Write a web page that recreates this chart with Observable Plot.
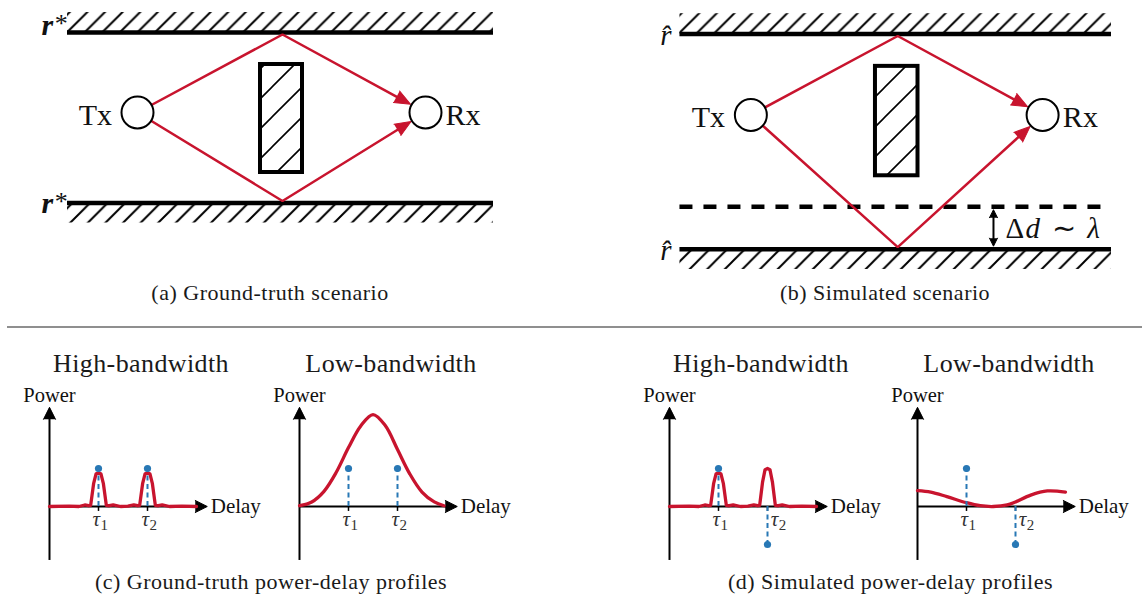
<!DOCTYPE html>
<html><head><meta charset="utf-8">
<script src="https://cdn.jsdelivr.net/npm/d3@7"></script>
<script src="https://cdn.jsdelivr.net/npm/@observablehq/plot@0.6"></script>
<style>
html,body{margin:0;padding:0;background:#fff;}
#page{position:relative;width:1142px;height:600px;overflow:hidden;font-family:'Liberation Serif','Times New Roman',serif;color:#1a1a1a;}
.cap{position:absolute;width:600px;text-align:center;font-size:22px;line-height:22px;letter-spacing:0.5px;white-space:nowrap;}
.ttl{position:absolute;width:300px;text-align:center;font-size:26px;line-height:26px;letter-spacing:0.4px;white-space:nowrap;}
.sep{position:absolute;left:7px;top:326px;width:1135px;height:2px;background:#8f8f8f;}
</style></head>
<body>
<svg width="0" height="0" style="position:absolute">
  <defs>
    <pattern id="wallHatch" patternUnits="userSpaceOnUse" width="17.6" height="17.6">
      <path d="M-4.4,4.4L4.4,-4.4M0,17.6L17.6,0M13.2,22L22,13.2" stroke="#000" stroke-width="2" fill="none"/>
    </pattern>
    <pattern id="boxHatch" patternUnits="userSpaceOnUse" width="30" height="30">
      <path d="M-5,5L5,-5M0,30L30,0M25,35L35,25" stroke="#000" stroke-width="1.6" fill="none"/>
    </pattern>
  </defs>
</svg>
<div id="page"></div>
<script>
// ---------------- DATA ----------------
// Scenario geometry (scene units; panel (a) draws 1 unit as 10 px)
const nodes = [
  {name: "Tx", x: 0, y: 0},
  {name: "Rx", x: 28.8, y: 0}
];
const wallTopY = 8.0;
const wallBottomY = -9.05;
const wallSpan = [-7.0, 35.6];
const obstacle = [{x1: 12.3, x2: 16.5, y1: -6.0, y2: 4.8}];
const bounceX = 14.5;
const deltaD = 4.2;          // shift of the simulated bottom wall (Δd ~ λ)
const deltaArrowX = 23.95;
const deltaText = [
  {t: "Δ", x: 25.13, italic: false},
  {t: "d", x: 27.1, italic: true},
  {t: "∼", x: 29.75, italic: false},
  {t: "λ", x: 33.2, italic: true}
];

// Power-delay profiles (delay: τ1 = 1, τ2 = 2 ; power: tap amplitude 1)
const tapsTruth = [{tau: 1, amp: 1, sym: "τ", sub: "1"}, {tau: 2, amp: 1, sym: "τ", sub: "2"}];
const tapsSim   = [{tau: 1, amp: 1, sym: "τ", sub: "1"}, {tau: 2, amp: -1, sym: "τ", sub: "2"}];

const pdpHighTruth = [[0,0],[0.4,0.01],[0.6,0],[0.72,0.04],[0.8,0.02],[0.84,0.03],[0.9,0.6],[0.95,0.86],[1.0,0.88],[1.05,0.86],[1.1,0.6],[1.16,0.03],[1.22,0.02],[1.3,0.04],[1.45,0],[1.6,0.01],[1.72,0.04],[1.8,0.02],[1.84,0.03],[1.9,0.6],[1.95,0.86],[2.0,0.88],[2.05,0.86],[2.1,0.6],[2.16,0.03],[2.22,0.02],[2.3,0.04],[2.45,0],[2.7,0.01],[3.0,0]];
const pdpLowTruth = [[0,0.02],[0.25,0.12],[0.5,0.4],[0.75,0.9],[1.0,1.55],[1.25,2.12],[1.5,2.42],[1.75,2.13],[2.0,1.5],[2.25,0.86],[2.5,0.38],[2.75,0.12],[2.95,0.02]];
const pdpHighSim = [[0,0],[0.4,0.01],[0.6,0],[0.72,0.04],[0.8,0.02],[0.84,0.03],[0.9,0.6],[0.95,0.86],[1.0,0.88],[1.05,0.86],[1.1,0.6],[1.16,0.03],[1.22,0.02],[1.3,0.04],[1.45,0],[1.6,0.01],[1.72,0.04],[1.8,0.02],[1.84,0.03],[1.9,0.65],[1.95,0.97],[2.0,1.0],[2.05,0.97],[2.1,0.65],[2.16,0.03],[2.22,0.02],[2.3,0.04],[2.45,0],[2.7,0.01],[3.0,0]];
const pdpLowSim = [[0,0.42],[0.27,0.38],[0.6,0.26],[1.0,0.1],[1.28,0.02],[1.55,0],[1.83,0.04],[2.0,0.12],[2.31,0.3],[2.65,0.41],[3.02,0.38]];

const titles = ["High-bandwidth", "Low-bandwidth", "High-bandwidth", "Low-bandwidth"];
const captions = ["(a) Ground-truth scenario", "(b) Simulated scenario",
                  "(c) Ground-truth power-delay profiles", "(d) Simulated power-delay profiles"];

// ---------------- STYLE / LAYOUT ----------------
const RED = "#c8142e", BLUE = "#2878b5", INK = "#111";
const FONT = "'Liberation Serif', 'Times New Roman', serif";
const page = document.getElementById("page");

function place(el, left, top) {
  const d = document.createElement("div");
  d.style.position = "absolute"; d.style.left = left + "px"; d.style.top = top + "px";
  d.appendChild(el); page.appendChild(d);
}
function htmlText(text, cls, cx, top, w) {
  const d = document.createElement("div");
  d.className = cls; d.textContent = text;
  d.style.left = (cx - w / 2) + "px"; d.style.top = top + "px";
  page.appendChild(d);
}
const baseStyle = {background: "transparent", overflow: "visible", maxWidth: "none", fontFamily: FONT, color: INK};

// ---------------- SCENES (a), (b) ----------------
const scenarios = [
  {k: 10, origin: [136.7, 111.7], ghost: null, star: true,
   walls: [{y: wallTopY, side: 1}, {y: wallBottomY, side: -1}],
   labelX: -8.42, labelDy: {top: -0.25, bottom: -1.0}},
  {k: 10.13, origin: [750.4, 114], ghost: wallBottomY, star: false,
   walls: [{y: wallTopY, side: 1}, {y: wallBottomY - deltaD, side: -1}],
   labelX: -7.84, labelDy: {top: -1.1, bottom: -1.1}}
];

function scenePlot(sc) {
  const k = sc.k, xmin = -10.5, ymax = 11.5;
  const width = Math.round(48 * k), height = Math.round(27.5 * k);
  const xmax = xmin + width / k, ymin = ymax - height / k;
  const walls = sc.walls;
  const top = walls.find(w => w.side > 0), bot = walls.find(w => w.side < 0);
  const tx = nodes[0], rx = nodes[1];
  const bounces = [{x: bounceX, y: top.y - 0.2}, {x: bounceX, y: bot.y + 0.2}];
  const rayPts = [], heads = [];
  bounces.forEach((b, i) => {
    const dx = rx.x - b.x, dy = rx.y - b.y, L = Math.hypot(dx, dy);
    const ux = dx / L, uy = dy / L;
    const tip = {x: rx.x - ux * 17 / k, y: rx.y - uy * 17 / k};
    const base = {x: tip.x - ux * 12 / k, y: tip.y - uy * 12 / k};
    rayPts.push({id: i, x: tx.x, y: tx.y}, {id: i, x: b.x, y: b.y}, {id: i, x: base.x, y: base.y});
    heads.push({x: tip.x, y: tip.y, rot: Math.atan2(ux, uy) * 180 / Math.PI});
  });
  const labelY = d => d.y + (d.side > 0 ? sc.labelDy.top : sc.labelDy.bottom);
  const labels = sc.star
    ? [Plot.text(walls, {x: () => sc.labelX, y: labelY, text: () => "r", textAnchor: "end", lineAnchor: "bottom",
         fontSize: 30, fontStyle: "italic", fontWeight: "bold", fill: INK}),
       Plot.text(walls, {x: () => sc.labelX + 0.15, y: d => labelY(d) + 0.3, text: () => "*", textAnchor: "start", lineAnchor: "bottom",
         fontSize: 26, fill: INK})]
    : [Plot.text(walls, {x: () => sc.labelX, y: labelY, text: () => "r\u0302", textAnchor: "end", lineAnchor: "bottom",
         fontSize: 29, fontStyle: "italic", fill: INK})];
  const extra = [];
  if (sc.ghost != null) {
    const y1 = sc.ghost - 0.3, y2 = bot.y + 0.3;
    extra.push(
      Plot.ruleY([sc.ghost], {x1: () => wallSpan[0], x2: () => wallSpan[1], stroke: "#000", strokeWidth: 4.5, strokeDasharray: "13,11"}),
      Plot.link([{x: deltaArrowX, y1: y1 - 0.5, y2: y2 + 0.5}], {x1: "x", x2: "x", y1: "y1", y2: "y2", stroke: "#000", strokeWidth: 2}),
      Plot.vector([{x: deltaArrowX, y: y1, rot: 0}, {x: deltaArrowX, y: y2, rot: 180}],
        {x: "x", y: "y", rotate: "rot", length: 8, r: 4, shape: "spike", anchor: "end", fill: "#000", stroke: "#000", strokeWidth: 1}),
      ...deltaText.map(d => Plot.text([d], {x: "x", y: () => (sc.ghost + bot.y) / 2 - 1.0, text: "t",
        textAnchor: "start", lineAnchor: "bottom", fontSize: 29, fontStyle: d.italic ? "italic" : "normal", fill: INK}))
    );
  }
  const svg = Plot.plot({
    width, height, marginTop: 0, marginRight: 0, marginBottom: 0, marginLeft: 0,
    x: {domain: [xmin, xmax], axis: null}, y: {domain: [ymin, ymax], axis: null},
    style: baseStyle,
    marks: [
      Plot.rect(walls, {x1: () => wallSpan[0], x2: () => wallSpan[1], y1: "y", y2: d => d.y + d.side * 2.0, fill: "url(#wallHatch)"}),
      Plot.ruleY(walls, {y: "y", x1: () => wallSpan[0], x2: () => wallSpan[1], stroke: "#000", strokeWidth: 4.5}),
      ...extra,
      Plot.rect(obstacle, {x1: "x1", x2: "x2", y1: "y1", y2: "y2", fill: "url(#boxHatch)", stroke: "#000", strokeWidth: 4}),
      Plot.line(rayPts, {x: "x", y: "y", z: "id", stroke: RED, strokeWidth: 2.5, strokeLinejoin: "miter"}),
      Plot.vector(heads, {x: "x", y: "y", rotate: "rot", length: 16, r: 6.5, shape: "spike", anchor: "end", fill: RED, stroke: RED, strokeWidth: 1}),
      Plot.dot(nodes, {x: "x", y: "y", r: 16, fill: "white", stroke: "#000", strokeWidth: 2}),
      Plot.text(nodes.filter(d => d.name === "Tx"), {x: d => d.x - 2.55, y: d => d.y - 1.23, text: "name", textAnchor: "end", lineAnchor: "bottom", fontSize: 30, fill: INK}),
      Plot.text(nodes.filter(d => d.name === "Rx"), {x: d => d.x + 2.0, y: d => d.y - 1.23, text: "name", textAnchor: "start", lineAnchor: "bottom", fontSize: 30, fill: INK}),
      ...labels
    ]
  });
  place(svg, sc.origin[0] + xmin * k, sc.origin[1] - ymax * k);
}
scenarios.forEach(scenePlot);

// ---------------- POWER-DELAY PROFILES (c), (d) ----------------
const pdps = [
  {x0: 49,  curve: pdpHighTruth, taps: tapsTruth, curveType: "linear"},
  {x0: 299, curve: pdpLowTruth,  taps: tapsTruth, curveType: "catmull-rom"},
  {x0: 669, curve: pdpHighSim,   taps: tapsSim,   curveType: "linear"},
  {x0: 917, curve: pdpLowSim,    taps: tapsSim,   curveType: "catmull-rom"}
];
const axisY = 506;

function pdpPlot(p, i) {
  const kx = 49, ky = 38, xmin = -1, ymax = 3.5, width = 255, height = 198;
  const xmax = xmin + width / kx, ymin = ymax - height / ky;
  const xTip = 3.22, yTip = 2.61, yBottom = -1.42;
  // label anchor: centred under the tap, or just right of a negative (downward) stem
  const symEnd = d => d.amp < 0 ? d.tau + 0.22 : d.tau + 0.03;
  const svg = Plot.plot({
    width, height, marginTop: 0, marginRight: 0, marginBottom: 0, marginLeft: 0,
    x: {domain: [xmin, xmax], axis: null}, y: {domain: [ymin, ymax], axis: null},
    style: baseStyle,
    marks: [
      Plot.ruleX([0], {y1: () => yBottom, y2: () => yTip - 10 / ky, stroke: "#000", strokeWidth: 2}),
      Plot.ruleY([0], {x1: () => 0, x2: () => xTip - 10 / kx, stroke: "#000", strokeWidth: 2}),
      Plot.vector([{x: 0, y: yTip, rot: 0}, {x: xTip, y: 0, rot: 90}],
        {x: "x", y: "y", rotate: "rot", length: 12, r: 6, shape: "spike", anchor: "end", fill: "#000", stroke: "#000", strokeWidth: 1}),
      Plot.ruleX(p.taps, {x: "tau", y1: () => 0, y2: () => -0.13, stroke: "#000", strokeWidth: 1.5}),
      Plot.line(p.curve, {curve: p.curveType, stroke: RED, strokeWidth: 3.3, strokeLinejoin: "round"}),
      Plot.ruleX(p.taps, {x: "tau", y1: () => 0, y2: "amp", stroke: BLUE, strokeWidth: 2, strokeDasharray: "5,3.5"}),
      Plot.dot(p.taps, {x: "tau", y: "amp", r: 3.6, fill: BLUE}),
      Plot.text(p.taps, {x: symEnd, y: () => -0.5, text: "sym", textAnchor: "end", lineAnchor: "bottom", fontSize: 21, fontStyle: "italic", fill: "#333"}),
      Plot.text(p.taps, {x: d => symEnd(d) + 0.01, y: () => -0.63, text: "sub", textAnchor: "start", lineAnchor: "bottom", fontSize: 15, fill: "#333"}),
      Plot.text(["Power"], {x: () => 0, y: () => 2.745, text: d => d, lineAnchor: "bottom", fontSize: 20.5, fill: INK}),
      Plot.text(["Delay"], {x: () => xTip + 0.07, y: () => -0.16, text: d => d, textAnchor: "start", lineAnchor: "bottom", fontSize: 21, fill: INK})
    ]
  });
  place(svg, p.x0 + xmin * kx, axisY - ymax * ky);
  htmlText(titles[i], "ttl", p.x0 + 92, 351.2, 300);
}
pdps.forEach(pdpPlot);

// ---------------- CAPTIONS & SEPARATOR ----------------
htmlText(captions[0], "cap", 270, 282.3, 600);
htmlText(captions[1], "cap", 885, 282.3, 600);
htmlText(captions[2], "cap", 271, 570.6, 600);
htmlText(captions[3], "cap", 890.5, 570.6, 600);
const sep = document.createElement("div"); sep.className = "sep"; page.appendChild(sep);
</script>
</body></html>
